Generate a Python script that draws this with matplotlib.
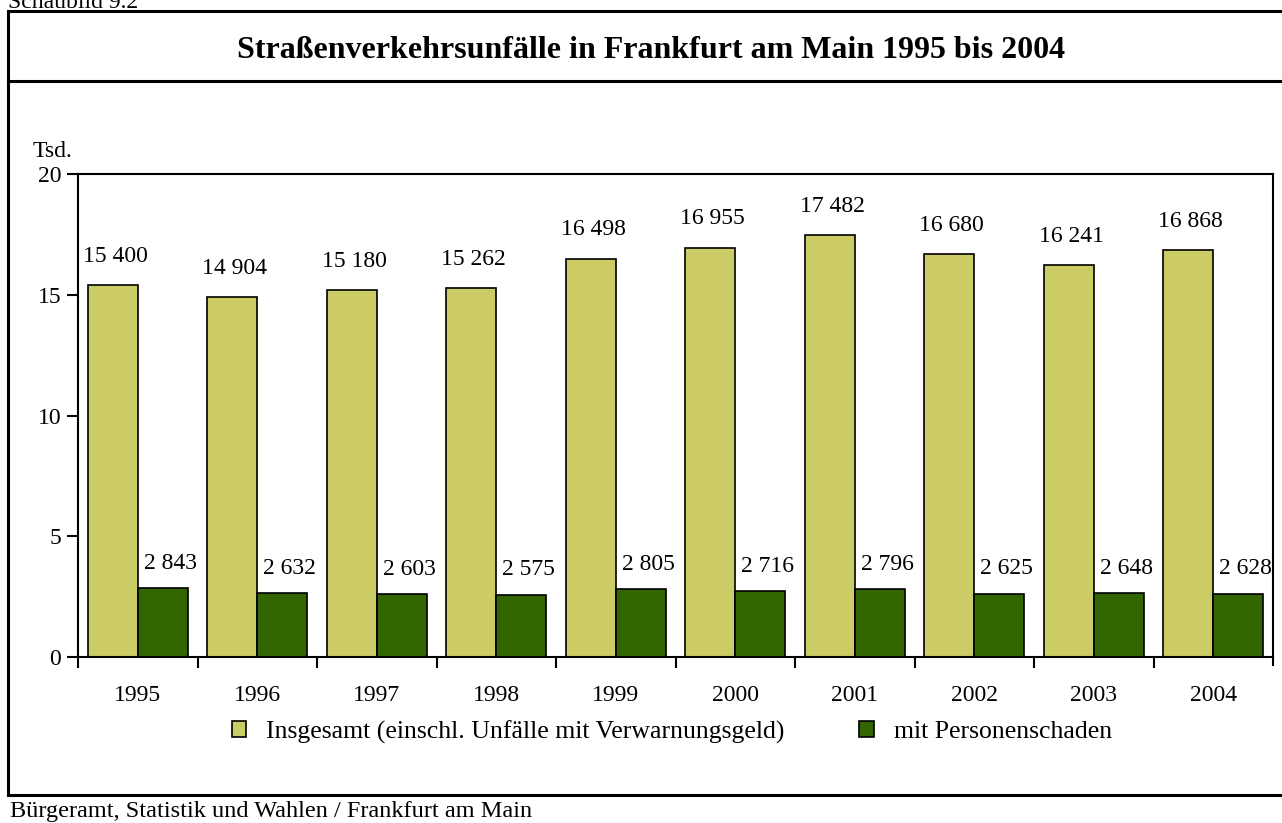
import numpy as np
import matplotlib
matplotlib.use('Agg')
import matplotlib.pyplot as plt
from matplotlib.lines import Line2D
from matplotlib.patches import Patch

plt.rcParams['font.family'] = ['Liberation Serif', 'DejaVu Serif']

years = ['1995', '1996', '1997', '1998', '1999', '2000', '2001', '2002', '2003', '2004']
insgesamt = [15400, 14904, 15180, 15262, 16498, 16955, 17482, 16680, 16241, 16868]
personenschaden = [2843, 2632, 2603, 2575, 2805, 2716, 2796, 2625, 2648, 2628]

col_total = '#cccc66'
col_pers = '#336600'
fs = 17

W, H = 1282, 823
fig = plt.figure(figsize=(W / 100, H / 100), dpi=100)


def fx(px):
    return px / W


def fy(py):
    return 1 - py / H


ax = fig.add_axes([fx(78), fy(657), fx(1273) - fx(78), fy(174) - fy(657)])

x = np.arange(len(years))
bw = 0.42
tot = np.array(insgesamt) / 1000
pers = np.array(personenschaden) / 1000
ax.bar(x - bw / 2, tot, bw, color=col_total, edgecolor='black', linewidth=1.2)
ax.bar(x + bw / 2, pers, bw, color=col_pers, edgecolor='black', linewidth=1.2)


def fmt(v):
    return f"{v:,}".replace(',', ' ')


for xi, v in zip(x, insgesamt):
    ax.text(xi - bw / 2 + 0.02, v / 1000 + 0.75, fmt(v), ha='center', va='bottom', fontsize=fs)
for xi, v in zip(x, personenschaden):
    ax.text(xi + bw / 2 + 0.06, v / 1000 + 0.6, fmt(v), ha='center', va='bottom', fontsize=fs)

ax.set_xlim(-0.5, len(years) - 0.5)
ax.set_ylim(0, 20)
ax.set_yticks([0, 5, 10, 15, 20])
ax.tick_params(axis='y', labelsize=fs, length=8, width=1.5, direction='out', pad=4)
ax.set_xticks(x - 0.5, minor=False)
ax.set_xticklabels([])
ax.set_xticks(x, minor=True)
ax.set_xticklabels(years, minor=True)
ax.tick_params(axis='x', which='major', length=8, width=1.5, direction='out')
ax.tick_params(axis='x', which='minor', length=0, labelsize=fs, pad=20)
# closing tick at right edge
ax.plot([len(years) - 0.5] * 2, [0, -0.33], color='black', lw=1.5, clip_on=False)
for s in ax.spines.values():
    s.set_linewidth(1.5)

fig.text(fx(33), fy(157), 'Tsd.', fontsize=fs, ha='left', va='baseline')

handles = [Patch(facecolor=col_total, edgecolor='black', linewidth=1.2),
           Patch(facecolor=col_pers, edgecolor='black', linewidth=1.2)]
labels = ['Insgesamt (einschl. Unfälle mit Verwarnungsgeld)', 'mit Personenschaden']
fig.legend(handles, labels, loc='center', bbox_to_anchor=(fx(672), fy(732)), ncol=2,
           frameon=False, fontsize=18.5, handlelength=0.55, handleheight=0.55,
           handletextpad=0.8, columnspacing=2.9)

fig.text(fx(651), fy(50), 'Straßenverkehrsunfälle in Frankfurt am Main 1995 bis 2004',
         ha='center', va='center', fontsize=23, fontweight='bold')
fig.text(fx(10), fy(812), 'Bürgeramt, Statistik und Wahlen / Frankfurt am Main',
         ha='left', va='center', fontsize=17.5)
fig.text(fx(8), fy(2), 'Schaubild 9.2', ha='left', va='center', fontsize=fs)

lw = 2.2
fig.add_artist(Line2D([fx(8), 1.0], [fy(11), fy(11)], color='black', lw=lw))
fig.add_artist(Line2D([fx(8), 1.0], [fy(81), fy(81)], color='black', lw=lw))
fig.add_artist(Line2D([fx(8), 1.0], [fy(795), fy(795)], color='black', lw=lw))
fig.add_artist(Line2D([fx(8), fx(8)], [fy(11), fy(795)], color='black', lw=lw))

fig.savefig('out.png', dpi=100)
